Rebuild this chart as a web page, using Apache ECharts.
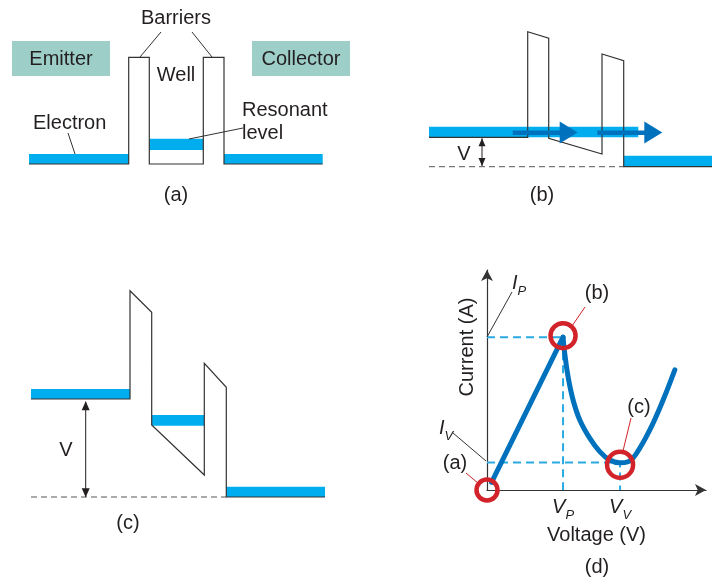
<!DOCTYPE html>
<html><head><meta charset="utf-8">
<script src="https://cdn.jsdelivr.net/npm/echarts@6/dist/echarts.min.js"></script>
<style>html,body{margin:0;padding:0;background:#fff}#c{width:712px;height:579px}</style>
</head><body><div id="c"></div>
<script>
// ---------- Panel (a): flat bands (position units, energy units) ----------
const aOutline = [[0,0],[99.7,0],[99.7,106.7],[120.3,106.7],[120.3,0],[174.3,0],[174.3,106.7],[195,106.7],[195,0],[293.7,0]];
const aEmitterBand = [[0,5],[99.7,5]];
const aWellBand = [[120.3,19.7],[174.3,19.7]];
const aCollectorBand = [[195,5],[293.7,5]];

// ---------- Panel (b): small bias ----------
const bOutline = [[0,29.7],[98.7,29.7],[98.7,135.3],[119.7,128.7],[119.7,28.7],[173,13],[173,113],[194.7,106.3],[194.7,0.3],[283,0.3]];
const bEmitterBand = [[0,35],[209.3,35]];
const bCollectorBand = [[194.7,5.8],[283,5.8]];
const bGround = [[0,0.3],[194.7,0.3]];
const bArrowShaft1 = [[83.7,34.2],[140,34.2]];
const bArrowShaft2 = [[168.3,34.2],[225,34.2]];
const bArrowHeads = [[139.7,34.5],[224.3,34.5]];
const bVArrow = [[53,1],[53,28.7]];
const bVHeads = [[53,24.7,0],[53,5,180]];

// ---------- Panel (c): resonant bias ----------
const cOutline = [[0,98],[99,98],[99,206.3],[120.7,184.7],[120.7,72],[173.3,22],[173.3,133.7],[195.3,109.7],[195.3,0],[294,0]];
const cEmitterBand = [[0,103],[99,103]];
const cWellBand = [[120.7,76.7],[173.3,76.7]];
const cCollectorBand = [[195.3,5.2],[294,5.2]];
const cGround = [[0,0],[195.3,0]];
const cVArrow = [[54.7,0.3],[54.7,95.3]];
const cVHeads = [[54.7,91.3,0],[54.7,4.3,180]];

// ---------- Panel (d): I-V curve (arbitrary units) ----------
const VP = 1, VV = 1.75, IP = 1, IV = 0.18;
const dRise = [[0.06,0.05],[1,1]];
const dFall = [[1,1],[1.022,0.895],[1.066,0.742],[1.132,0.589],[1.22,0.458],[1.351,0.339],[1.483,0.251],[1.614,0.196],[1.746,0.178],[1.855,0.185],[1.966,0.24],[2.141,0.393],[2.316,0.589],[2.47,0.786]];
const dCircles = [[0,0],[1,1.01],[1.75,0.165]];
const dCircleSizes = [21,25,26];
const xTickValues = [VP, VV];
const xTickLabels = ['P','V'];   // subscripts of V

const FONT = '"Liberation Sans", Arial, Helvetica, sans-serif';
const BLACK = '#333';
const TXT = '#231f20';
const CYAN = '#00aeef';
const DBLUE = '#0071bc';
const LBLUE = '#29abe2';
const RED = '#d2232a';
const TEAL = '#9dcfc8';

function ln(gi, data, color, width, z, extra) {
  return Object.assign({type:'line', xAxisIndex:gi, yAxisIndex:gi, data, symbol:'none', clip:false, z,
    lineStyle:{color, width, cap:'butt', join:'miter'}, silent:true, animation:false}, extra || {});
}
function band(gi, data, w) { return ln(gi, data, CYAN, w, 1); }
function heads(gi, data, size) {
  return {type:'scatter', xAxisIndex:gi, yAxisIndex:gi, clip:false, z:3, silent:true,
    symbol:'triangle', symbolSize:size,
    data: data.map(d => ({value:[d[0], d[1]], symbolRotate:d[2]})),
    itemStyle:{color:'#231f20', opacity:1}};
}

const hidden = {show:false};
function hAxis(gi, max) { return {gridIndex:gi, type:'value', min:0, max, show:false}; }

const series = [
  // (a)
  band(0, aEmitterBand, 10), band(0, aWellBand, 11.3), band(0, aCollectorBand, 10),
  ln(0, aOutline, BLACK, 1.2, 2),
  // (b)
  band(1, bEmitterBand, 10.6), band(1, bCollectorBand, 11),
  ln(1, bGround, '#555', 1, 2, {lineStyle:{color:'#555', width:1, type:[6,4]}}),
  ln(1, bOutline, BLACK, 1.2, 2),
  ln(1, bArrowShaft1, DBLUE, 4.5, 3), ln(1, bArrowShaft2, DBLUE, 4.5, 3),
  {type:'scatter', xAxisIndex:1, yAxisIndex:1, clip:false, z:3, silent:true,
   symbol:'path://M0,0L10,5L0,10Z', symbolSize:[18,22], data:bArrowHeads, itemStyle:{color:DBLUE, opacity:1}},
  ln(1, bVArrow, TXT, 1, 3), heads(1, bVHeads, [7,8]),
  // (c)
  band(2, cEmitterBand, 10), band(2, cWellBand, 10.7), band(2, cCollectorBand, 10.3),
  ln(2, cGround, '#555', 1, 2, {lineStyle:{color:'#555', width:1, type:[6,4]}}),
  ln(2, cOutline, BLACK, 1.2, 2),
  ln(2, cVArrow, TXT, 1, 3), heads(2, cVHeads, [8,9]),
  // (d)
  ln(3, [[0,IP],[VP,IP],[VP,0]], LBLUE, 2, 1, {lineStyle:{color:LBLUE, width:2, type:[8,5]}}),
  ln(3, [[0,IV],[VV,IV],[VV,0]], LBLUE, 2, 1, {lineStyle:{color:LBLUE, width:2, type:[8,5]}}),
  ln(3, dRise, DBLUE, 5, 3, {lineStyle:{color:DBLUE, width:5, cap:'round', join:'round'}}),
  ln(3, dFall, DBLUE, 5, 3, {smooth:0.4, lineStyle:{color:DBLUE, width:5, cap:'round', join:'round'}}),
  {type:'scatter', xAxisIndex:3, yAxisIndex:3, clip:false, z:4, silent:true, symbol:'circle',
   data: dCircles.map((d,i) => ({value:d, symbolSize:dCircleSizes[i]})),
   itemStyle:{color:'rgba(0,0,0,0)', borderColor:RED, borderWidth:4.5, opacity:1}}
];

function txt(x, y, text, extra) {
  return {type:'text', x, y, silent:true, z:10,
    style:Object.assign({text, font:'20px ' + FONT, fill:TXT, align:'center', verticalAlign:'middle',
      textAlign:'center', textVerticalAlign:'middle'}, extra || {})};
}
function seg(x1,y1,x2,y2,color,w) {
  return {type:'line', silent:true, z:10, shape:{x1,y1,x2,y2}, style:{stroke:color||'#333', lineWidth:w||1}};
}
const subRich = {
  i:{fontFamily:FONT, fontSize:20, fontStyle:'italic', color:TXT, fill:TXT, lineHeight:22},
  s:{fontFamily:FONT, fontSize:13, fontStyle:'italic', color:TXT, fill:TXT, verticalAlign:'bottom', lineHeight:22, padding:[0,0,-4,0]}
};

const graphic = [
  {type:'rect', silent:true, shape:{x:12,y:41,width:98,height:35}, style:{fill:TEAL}},
  {type:'rect', silent:true, shape:{x:252,y:41,width:98,height:35}, style:{fill:TEAL}},
  txt(61, 59, 'Emitter'), txt(301, 59, 'Collector'),
  txt(176, 18, 'Barriers'), txt(176, 75, 'Well'),
  txt(242, 110, 'Resonant', {align:'left', textAlign:'left'}),
  txt(242, 133, 'level', {align:'left', textAlign:'left'}),
  txt(33, 123, 'Electron', {align:'left', textAlign:'left'}),
  seg(161,32,140,57), seg(192,32,212,57), seg(68,133,75,154), seg(243,128,189,139),
  txt(176, 195, '(a)'),
  txt(464, 154, 'V'), txt(542, 195, '(b)'),
  txt(66, 450, 'V'), txt(128, 523, '(c)'),
  // (d)
  {type:'text', x:467, y:347, rotation:Math.PI/2, silent:true, z:10,
   style:{text:'Current (A)', font:'20px ' + FONT, fill:TXT, align:'center', verticalAlign:'middle', textAlign:'center', textVerticalAlign:'middle'}},
  txt(597, 567, '(d)'),
  txt(597, 293, '(b)'), txt(639, 407, '(c)'), txt(455, 463, '(a)'),
  seg(585,307,572,326,RED,1), seg(631,418,623,451,RED,1), seg(466,473,478,483,RED,1),
  {type:'text', x:519, y:283, silent:true, z:10, style:{text:'{i|I}{s|P}', rich:subRich, align:'center', verticalAlign:'middle', textAlign:'center', textVerticalAlign:'middle'}},
  {type:'text', x:446, y:428, silent:true, z:10, style:{text:'{i|I}{s|V}', rich:subRich, align:'center', verticalAlign:'middle', textAlign:'center', textVerticalAlign:'middle'}},
  seg(512,292,487,337,'#333',1), seg(453,433,486,461,'#333',1)
];

const chart = echarts.init(document.getElementById('c'), null, {renderer:'canvas'});
chart.setOption({
  animation:false,
  backgroundColor:'#fff',
  grid:[
    {left:29, top:30, width:300, height:134},
    {left:429, top:20, width:283, height:147},
    {left:31, top:280, width:300, height:217},
    {left:487, top:270, width:219, height:220}
  ],
  xAxis:[hAxis(0,300), hAxis(1,283), hAxis(2,300),
    {gridIndex:3, type:'value', min:0, max:2.88,
     axisLine:{show:true, symbol:['none','arrow'], symbolSize:[9,11], lineStyle:{color:BLACK, width:1.2}},
     axisTick:hidden, splitLine:hidden,
     axisLabel:{show:true, customValues:xTickValues, margin:6,
       formatter:(v) => '{i|V}{s|' + xTickLabels[xTickValues.indexOf(v)] + '}', rich:subRich},
     name:'Voltage (V)', nameLocation:'middle', nameGap:35,
     nameTextStyle:{fontFamily:FONT, fontSize:20, color:TXT}}],
  yAxis:[hAxis(0,134), hAxis(1,147), hAxis(2,217),
    {gridIndex:3, type:'value', min:0, max:1.44,
     axisLine:{show:true, symbol:['none','arrow'], symbolSize:[9,11], lineStyle:{color:BLACK, width:1.2}},
     axisTick:hidden, splitLine:hidden, axisLabel:hidden}],
  series, graphic
});
</script></body></html>
